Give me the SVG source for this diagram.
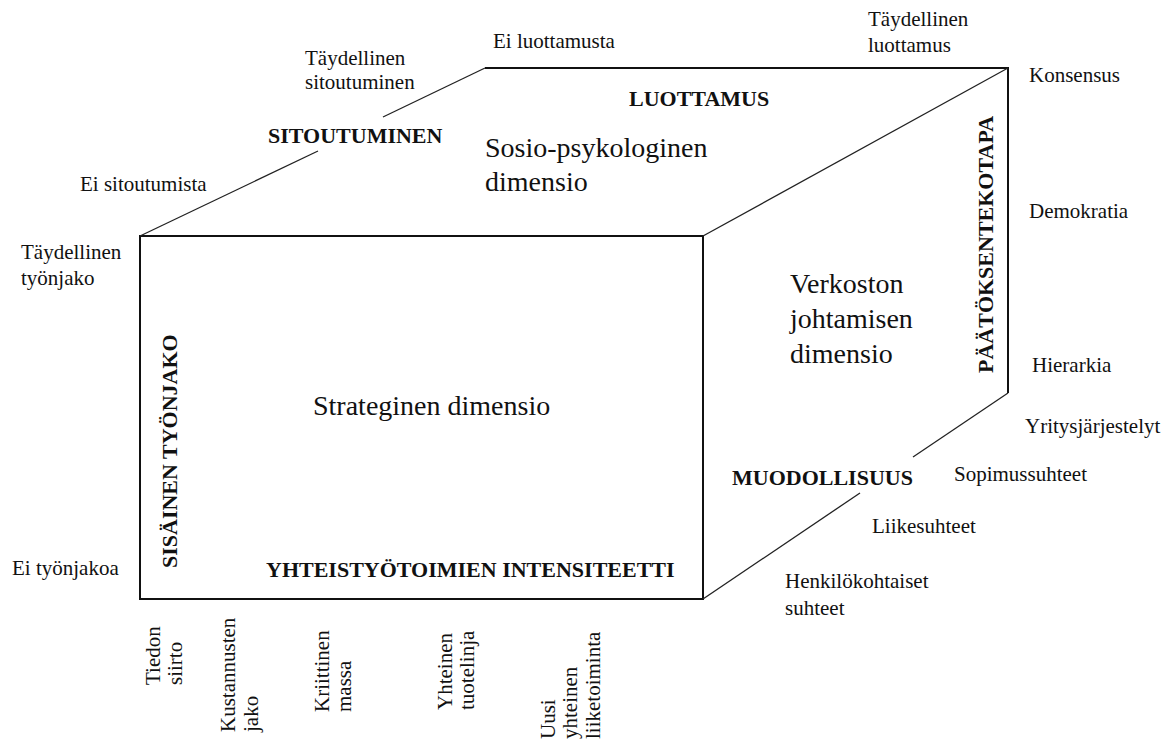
<svg xmlns="http://www.w3.org/2000/svg" width="1176" height="740" viewBox="0 0 1176 740" xml:lang="fi">
<style>
.edge{fill:none;stroke:#111;stroke-width:2}
.diag{fill:none;stroke:#222;stroke-width:1.3}
.s{font-family:'Liberation Serif','Times New Roman',serif;font-size:21px;fill:#111}
.b{font-family:'Liberation Serif','Times New Roman',serif;font-size:22px;font-weight:bold;fill:#111}
.d{font-family:'Liberation Serif','Times New Roman',serif;font-size:28px;fill:#111}
</style>
<rect width="1176" height="740" fill="#fff"/>
<g id="connectors">
<rect class="edge" x="140" y="236" width="563" height="363"/>
<polyline class="edge" points="485,68 1008,68 1008,393"/>
<line class="diag" x1="140" y1="236" x2="318" y2="151"/>
<line class="diag" x1="383" y1="117" x2="485" y2="68"/>
<line class="diag" x1="703" y1="236" x2="1008" y2="68"/>
<line class="diag" x1="703" y1="599" x2="860" y2="493"/>
<line class="diag" x1="913" y1="457" x2="1008" y2="393"/>
</g>
<g id="front-face">
<text class="d" x="313" y="415">Strateginen dimensio</text>
<text class="b" transform="translate(177,568) rotate(-90)">SIS&#196;INEN TY&#214;NJAKO</text>
<text class="b" x="266" y="577">YHTEISTY&#214;TOIMIEN INTENSITEETTI</text>
</g>
<g id="top-face">
<text class="d" x="485" y="157">Sosio-psykologinen</text>
<text class="d" x="485" y="191">dimensio</text>
<text class="b" x="268" y="143">SITOUTUMINEN</text>
<text class="b" x="629" y="106">LUOTTAMUS</text>
</g>
<g id="side-face">
<text class="d" x="790" y="293">Verkoston</text>
<text class="d" x="790" y="328">johtamisen</text>
<text class="d" x="790" y="363">dimensio</text>
<text class="b" transform="translate(993,373) rotate(-90)">P&#196;&#196;T&#214;KSENTEKOTAPA</text>
<text class="b" x="732" y="485">MUODOLLISUUS</text>
</g>
<g id="labels-top">
<text class="s" x="305" y="65">T&#228;ydellinen</text>
<text class="s" x="305" y="89">sitoutuminen</text>
<text class="s" x="80" y="191">Ei sitoutumista</text>
<text class="s" x="493" y="48">Ei luottamusta</text>
<text class="s" x="868" y="26">T&#228;ydellinen</text>
<text class="s" x="868" y="52">luottamus</text>
</g>
<g id="labels-right">
<text class="s" x="1029" y="82">Konsensus</text>
<text class="s" x="1029" y="218">Demokratia</text>
<text class="s" x="1032" y="372">Hierarkia</text>
<text class="s" x="1025" y="433">Yritysj&#228;rjestelyt</text>
<text class="s" x="954" y="481">Sopimussuhteet</text>
<text class="s" x="872" y="533">Liikesuhteet</text>
<text class="s" x="785" y="588">Henkil&#246;kohtaiset</text>
<text class="s" x="785" y="615">suhteet</text>
</g>
<g id="labels-left">
<text class="s" x="21" y="259">T&#228;ydellinen</text>
<text class="s" x="21" y="285">ty&#246;njako</text>
<text class="s" x="12" y="575">Ei ty&#246;njakoa</text>
</g>
<g id="labels-bottom">
<text class="s" transform="translate(160,685) rotate(-90)">Tiedon</text>
<text class="s" transform="translate(182,685) rotate(-90)">siirto</text>
<text class="s" transform="translate(235,732) rotate(-90)">Kustannusten</text>
<text class="s" transform="translate(258,732) rotate(-90)">jako</text>
<text class="s" transform="translate(329,712) rotate(-90)">Kriittinen</text>
<text class="s" transform="translate(351,712) rotate(-90)">massa</text>
<text class="s" transform="translate(452,710) rotate(-90)">Yhteinen</text>
<text class="s" transform="translate(474,710) rotate(-90)">tuotelinja</text>
<text class="s" transform="translate(555,739) rotate(-90)">Uusi</text>
<text class="s" transform="translate(577,739) rotate(-90)">yhteinen</text>
<text class="s" transform="translate(600,739) rotate(-90)">liiketoiminta</text>
</g>
</svg>
